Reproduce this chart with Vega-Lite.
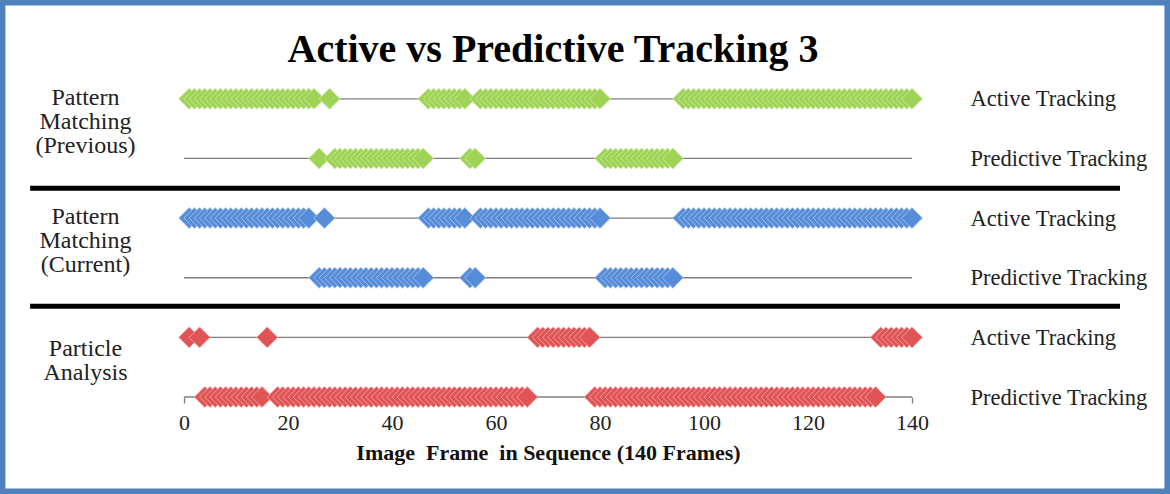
{
"$schema": "https://vega.github.io/schema/vega-lite/v6.json",
"width": 728,
"height": 328,
"autosize": {"type": "none"},
"padding": {"left": 184, "top": 69, "right": 258, "bottom": 97},
"background": "white",
"title": {"text": "Active vs Predictive Tracking 3", "font": "Liberation Serif", "fontSize": 40, "fontWeight": "bold", "color": "#000000", "anchor": "middle", "frame": "group", "dx": 5, "baseline": "alphabetic", "offset": -107.5},
"config": {"view": {"stroke": null}, "axis": {"grid": false, "domain": false, "ticks": false, "labelFont": "Liberation Serif", "labelColor": "#222222", "titleFont": "Liberation Serif"}},
"datasets": {
"tracks": [{"row":1},{"row":2},{"row":3},{"row":4},{"row":5},{"row":6}],
"frames": [
{"row":1,"frame":1},{"row":1,"frame":2},{"row":1,"frame":3},{"row":1,"frame":4},{"row":1,"frame":5},{"row":1,"frame":6},{"row":1,"frame":7},{"row":1,"frame":8},{"row":1,"frame":9},{"row":1,"frame":10},{"row":1,"frame":11},{"row":1,"frame":12},{"row":1,"frame":13},{"row":1,"frame":14},{"row":1,"frame":15},{"row":1,"frame":16},{"row":1,"frame":17},{"row":1,"frame":18},{"row":1,"frame":19},{"row":1,"frame":20},{"row":1,"frame":21},{"row":1,"frame":22},{"row":1,"frame":23},{"row":1,"frame":24},{"row":1,"frame":25},{"row":1,"frame":28},
{"row":1,"frame":47},{"row":1,"frame":48},{"row":1,"frame":49},{"row":1,"frame":50},{"row":1,"frame":51},{"row":1,"frame":52},{"row":1,"frame":53},{"row":1,"frame":54},
{"row":1,"frame":57},{"row":1,"frame":58},{"row":1,"frame":59},{"row":1,"frame":60},{"row":1,"frame":61},{"row":1,"frame":62},{"row":1,"frame":63},{"row":1,"frame":64},{"row":1,"frame":65},{"row":1,"frame":66},{"row":1,"frame":67},{"row":1,"frame":68},{"row":1,"frame":69},{"row":1,"frame":70},{"row":1,"frame":71},{"row":1,"frame":72},{"row":1,"frame":73},{"row":1,"frame":74},{"row":1,"frame":75},{"row":1,"frame":76},{"row":1,"frame":77},{"row":1,"frame":78},{"row":1,"frame":79},{"row":1,"frame":80},
{"row":1,"frame":96},{"row":1,"frame":97},{"row":1,"frame":98},{"row":1,"frame":99},{"row":1,"frame":100},{"row":1,"frame":101},{"row":1,"frame":102},{"row":1,"frame":103},{"row":1,"frame":104},{"row":1,"frame":105},{"row":1,"frame":106},{"row":1,"frame":107},{"row":1,"frame":108},{"row":1,"frame":109},{"row":1,"frame":110},{"row":1,"frame":111},{"row":1,"frame":112},{"row":1,"frame":113},{"row":1,"frame":114},{"row":1,"frame":115},{"row":1,"frame":116},{"row":1,"frame":117},{"row":1,"frame":118},{"row":1,"frame":119},{"row":1,"frame":120},{"row":1,"frame":121},{"row":1,"frame":122},{"row":1,"frame":123},{"row":1,"frame":124},{"row":1,"frame":125},{"row":1,"frame":126},{"row":1,"frame":127},{"row":1,"frame":128},{"row":1,"frame":129},{"row":1,"frame":130},{"row":1,"frame":131},{"row":1,"frame":132},{"row":1,"frame":133},{"row":1,"frame":134},{"row":1,"frame":135},{"row":1,"frame":136},{"row":1,"frame":137},{"row":1,"frame":138},{"row":1,"frame":139},{"row":1,"frame":140},
{"row":2,"frame":26},{"row":2,"frame":29},{"row":2,"frame":30},{"row":2,"frame":31},{"row":2,"frame":32},{"row":2,"frame":33},{"row":2,"frame":34},{"row":2,"frame":35},{"row":2,"frame":36},{"row":2,"frame":37},{"row":2,"frame":38},{"row":2,"frame":39},{"row":2,"frame":40},{"row":2,"frame":41},{"row":2,"frame":42},{"row":2,"frame":43},{"row":2,"frame":44},{"row":2,"frame":45},{"row":2,"frame":46},
{"row":2,"frame":55},{"row":2,"frame":56},
{"row":2,"frame":81},{"row":2,"frame":82},{"row":2,"frame":83},{"row":2,"frame":84},{"row":2,"frame":85},{"row":2,"frame":86},{"row":2,"frame":87},{"row":2,"frame":88},{"row":2,"frame":89},{"row":2,"frame":90},{"row":2,"frame":91},{"row":2,"frame":92},{"row":2,"frame":93},{"row":2,"frame":94},
{"row":3,"frame":1},{"row":3,"frame":2},{"row":3,"frame":3},{"row":3,"frame":4},{"row":3,"frame":5},{"row":3,"frame":6},{"row":3,"frame":7},{"row":3,"frame":8},{"row":3,"frame":9},{"row":3,"frame":10},{"row":3,"frame":11},{"row":3,"frame":12},{"row":3,"frame":13},{"row":3,"frame":14},{"row":3,"frame":15},{"row":3,"frame":16},{"row":3,"frame":17},{"row":3,"frame":18},{"row":3,"frame":19},{"row":3,"frame":20},{"row":3,"frame":21},{"row":3,"frame":22},{"row":3,"frame":23},{"row":3,"frame":24},{"row":3,"frame":27},
{"row":3,"frame":47},{"row":3,"frame":48},{"row":3,"frame":49},{"row":3,"frame":50},{"row":3,"frame":51},{"row":3,"frame":52},{"row":3,"frame":53},{"row":3,"frame":54},
{"row":3,"frame":57},{"row":3,"frame":58},{"row":3,"frame":59},{"row":3,"frame":60},{"row":3,"frame":61},{"row":3,"frame":62},{"row":3,"frame":63},{"row":3,"frame":64},{"row":3,"frame":65},{"row":3,"frame":66},{"row":3,"frame":67},{"row":3,"frame":68},{"row":3,"frame":69},{"row":3,"frame":70},{"row":3,"frame":71},{"row":3,"frame":72},{"row":3,"frame":73},{"row":3,"frame":74},{"row":3,"frame":75},{"row":3,"frame":76},{"row":3,"frame":77},{"row":3,"frame":78},{"row":3,"frame":79},{"row":3,"frame":80},
{"row":3,"frame":96},{"row":3,"frame":97},{"row":3,"frame":98},{"row":3,"frame":99},{"row":3,"frame":100},{"row":3,"frame":101},{"row":3,"frame":102},{"row":3,"frame":103},{"row":3,"frame":104},{"row":3,"frame":105},{"row":3,"frame":106},{"row":3,"frame":107},{"row":3,"frame":108},{"row":3,"frame":109},{"row":3,"frame":110},{"row":3,"frame":111},{"row":3,"frame":112},{"row":3,"frame":113},{"row":3,"frame":114},{"row":3,"frame":115},{"row":3,"frame":116},{"row":3,"frame":117},{"row":3,"frame":118},{"row":3,"frame":119},{"row":3,"frame":120},{"row":3,"frame":121},{"row":3,"frame":122},{"row":3,"frame":123},{"row":3,"frame":124},{"row":3,"frame":125},{"row":3,"frame":126},{"row":3,"frame":127},{"row":3,"frame":128},{"row":3,"frame":129},{"row":3,"frame":130},{"row":3,"frame":131},{"row":3,"frame":132},{"row":3,"frame":133},{"row":3,"frame":134},{"row":3,"frame":135},{"row":3,"frame":136},{"row":3,"frame":137},{"row":3,"frame":138},{"row":3,"frame":139},{"row":3,"frame":140},
{"row":4,"frame":26},{"row":4,"frame":27},{"row":4,"frame":28},{"row":4,"frame":29},{"row":4,"frame":30},{"row":4,"frame":31},{"row":4,"frame":32},{"row":4,"frame":33},{"row":4,"frame":34},{"row":4,"frame":35},{"row":4,"frame":36},{"row":4,"frame":37},{"row":4,"frame":38},{"row":4,"frame":39},{"row":4,"frame":40},{"row":4,"frame":41},{"row":4,"frame":42},{"row":4,"frame":43},{"row":4,"frame":44},{"row":4,"frame":45},{"row":4,"frame":46},
{"row":4,"frame":55},{"row":4,"frame":56},
{"row":4,"frame":81},{"row":4,"frame":82},{"row":4,"frame":83},{"row":4,"frame":84},{"row":4,"frame":85},{"row":4,"frame":86},{"row":4,"frame":87},{"row":4,"frame":88},{"row":4,"frame":89},{"row":4,"frame":90},{"row":4,"frame":91},{"row":4,"frame":92},{"row":4,"frame":93},{"row":4,"frame":94},
{"row":5,"frame":1},{"row":5,"frame":3},{"row":5,"frame":16},
{"row":5,"frame":68},{"row":5,"frame":69},{"row":5,"frame":70},{"row":5,"frame":71},{"row":5,"frame":72},{"row":5,"frame":73},{"row":5,"frame":74},{"row":5,"frame":75},{"row":5,"frame":76},{"row":5,"frame":77},{"row":5,"frame":78},
{"row":5,"frame":134},{"row":5,"frame":135},{"row":5,"frame":136},{"row":5,"frame":137},{"row":5,"frame":138},{"row":5,"frame":139},{"row":5,"frame":140},
{"row":6,"frame":4},{"row":6,"frame":5},{"row":6,"frame":6},{"row":6,"frame":7},{"row":6,"frame":8},{"row":6,"frame":9},{"row":6,"frame":10},{"row":6,"frame":11},{"row":6,"frame":12},{"row":6,"frame":13},{"row":6,"frame":14},{"row":6,"frame":15},
{"row":6,"frame":18},{"row":6,"frame":19},{"row":6,"frame":20},{"row":6,"frame":21},{"row":6,"frame":22},{"row":6,"frame":23},{"row":6,"frame":24},{"row":6,"frame":25},{"row":6,"frame":26},{"row":6,"frame":27},{"row":6,"frame":28},{"row":6,"frame":29},{"row":6,"frame":30},{"row":6,"frame":31},{"row":6,"frame":32},{"row":6,"frame":33},{"row":6,"frame":34},{"row":6,"frame":35},{"row":6,"frame":36},{"row":6,"frame":37},{"row":6,"frame":38},{"row":6,"frame":39},{"row":6,"frame":40},{"row":6,"frame":41},{"row":6,"frame":42},{"row":6,"frame":43},{"row":6,"frame":44},{"row":6,"frame":45},{"row":6,"frame":46},{"row":6,"frame":47},{"row":6,"frame":48},{"row":6,"frame":49},{"row":6,"frame":50},{"row":6,"frame":51},{"row":6,"frame":52},{"row":6,"frame":53},{"row":6,"frame":54},{"row":6,"frame":55},{"row":6,"frame":56},{"row":6,"frame":57},{"row":6,"frame":58},{"row":6,"frame":59},{"row":6,"frame":60},{"row":6,"frame":61},{"row":6,"frame":62},{"row":6,"frame":63},{"row":6,"frame":64},{"row":6,"frame":65},{"row":6,"frame":66},
{"row":6,"frame":79},{"row":6,"frame":80},{"row":6,"frame":81},{"row":6,"frame":82},{"row":6,"frame":83},{"row":6,"frame":84},{"row":6,"frame":85},{"row":6,"frame":86},{"row":6,"frame":87},{"row":6,"frame":88},{"row":6,"frame":89},{"row":6,"frame":90},{"row":6,"frame":91},{"row":6,"frame":92},{"row":6,"frame":93},{"row":6,"frame":94},{"row":6,"frame":95},{"row":6,"frame":96},{"row":6,"frame":97},{"row":6,"frame":98},{"row":6,"frame":99},{"row":6,"frame":100},{"row":6,"frame":101},{"row":6,"frame":102},{"row":6,"frame":103},{"row":6,"frame":104},{"row":6,"frame":105},{"row":6,"frame":106},{"row":6,"frame":107},{"row":6,"frame":108},{"row":6,"frame":109},{"row":6,"frame":110},{"row":6,"frame":111},{"row":6,"frame":112},{"row":6,"frame":113},{"row":6,"frame":114},{"row":6,"frame":115},{"row":6,"frame":116},{"row":6,"frame":117},{"row":6,"frame":118},{"row":6,"frame":119},{"row":6,"frame":120},{"row":6,"frame":121},{"row":6,"frame":122},{"row":6,"frame":123},{"row":6,"frame":124},{"row":6,"frame":125},{"row":6,"frame":126},{"row":6,"frame":127},{"row":6,"frame":128},{"row":6,"frame":129},{"row":6,"frame":130},{"row":6,"frame":131},{"row":6,"frame":132},{"row":6,"frame":133}
]
},
"layer": [
{
"data": {"values": [{}]},
"mark": {"type": "rect", "filled": false, "stroke": "#4f81bd", "strokeWidth": 11},
"encoding": {
"x": {"datum": -35.4, "type": "quantitative", "scale": {"domain": [0, 140], "nice": false, "zero": false}},
"x2": {"datum": 189.6},
"y": {"datum": -0.657, "type": "quantitative", "axis": null, "scale": {"domain": [0.5, 6], "reverse": true, "nice": false, "zero": false}},
"y2": {"datum": 7.627}
}
},
{
"data": {"values": [{}]},
"mark": {"type": "rule", "stroke": "#000000", "strokeWidth": 5},
"encoding": {
"x": {"datum": -29.6, "type": "quantitative"},
"x2": {"datum": 180},
"y": {"datum": 2.5, "type": "quantitative", "axis": null}
}
},
{
"data": {"values": [{}]},
"mark": {"type": "rule", "stroke": "#000000", "strokeWidth": 5},
"encoding": {
"x": {"datum": -29.6, "type": "quantitative"},
"x2": {"datum": 180},
"y": {"datum": 4.48, "type": "quantitative", "axis": null}
}
},
{
"data": {"name": "tracks"},
"mark": {"type": "rule", "stroke": "#7f7f7f", "strokeWidth": 1.3},
"encoding": {
"x": {"datum": 0, "type": "quantitative"},
"x2": {"datum": 140},
"y": {"field": "row", "type": "quantitative",
"axis": {"orient": "left", "values": [0.983, 2.98, 5.18], "labelExpr": "datum.value < 2 ? ['Pattern','Matching','(Previous)'] : datum.value < 4 ? ['Pattern','Matching','(Current)'] : ['Particle','Analysis']", "labelFontSize": 24, "labelAlign": "center", "labelBaseline": "middle", "labelPadding": 99, "labelLineHeight": 24, "tickSize": 0, "title": null, "labelFlush": false, "labelOverlap": false, "labelBound": false}}
}
},
{
"data": {"name": "frames"},
"mark": {"type": "point", "shape": "diamond", "filled": true, "size": 440, "opacity": 1, "strokeWidth": 0.9, "strokeOpacity": 0.9},
"encoding": {
"x": {"field": "frame", "type": "quantitative", "scale": {"domain": [0, 140], "nice": false, "zero": false},
"axis": {"orient": "bottom", "values": [0, 20, 40, 60, 80, 100, 120, 140], "labelFontSize": 22, "labelPadding": 9, "ticks": true, "tickSize": 6, "tickColor": "#7f7f7f", "tickWidth": 1.3, "tickOpacity": {"condition": {"test": "datum.value === 0 || datum.value === 140", "value": 1}, "value": 0}, "labelFlush": false, "title": "Image\u00a0 Frame\u00a0 in Sequence (140 Frames)", "titleFontSize": 22, "titleFontWeight": "bold", "titleColor": "#111111", "titlePadding": 9}},
"y": {"field": "row", "type": "quantitative", "scale": {"domain": [0.5, 6], "reverse": true, "nice": false, "zero": false},
"axis": {"orient": "right", "values": [1, 2, 3, 4, 5, 6], "labelExpr": "datum.value % 2 == 1 ? 'Active Tracking' : 'Predictive Tracking'", "labelFontSize": 22.5, "labelAlign": "left", "labelBaseline": "middle", "labelPadding": 58, "tickSize": 0, "title": null, "labelFlush": false, "labelOverlap": false, "labelBound": false}},
"color": {"field": "row", "type": "ordinal", "legend": null, "scale": {"domain": [1, 2, 3, 4, 5, 6], "range": ["#9fd356", "#9fd356", "#578cd9", "#578cd9", "#e05456", "#e05456"]}},
"stroke": {"field": "row", "type": "ordinal", "legend": null, "scale": {"domain": [1, 2, 3, 4, 5, 6], "range": ["#cfeaa6", "#cfeaa6", "#a9c6ef", "#a9c6ef", "#f2a9aa", "#f2a9aa"]}}
}
}
],
"resolve": {"axis": {"y": "independent"}}
}
